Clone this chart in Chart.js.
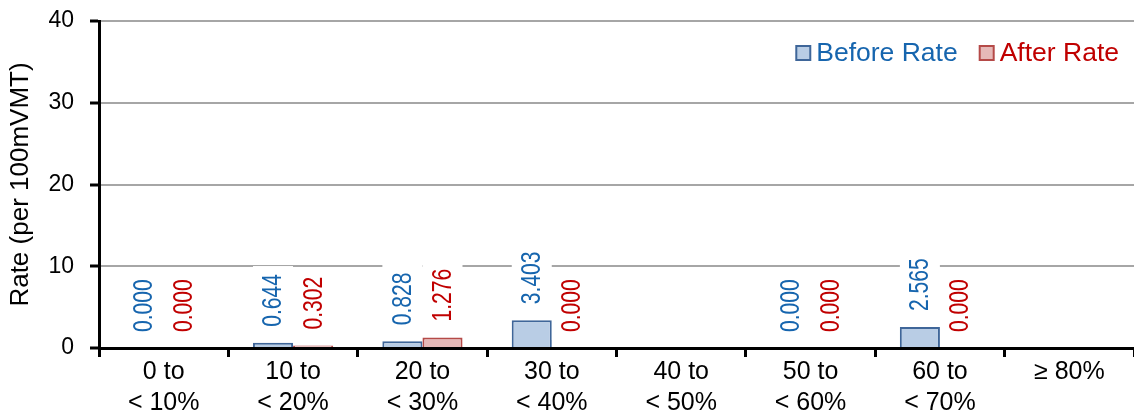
<!DOCTYPE html>
<html>
<head>
<meta charset="utf-8">
<script src="https://cdn.jsdelivr.net/npm/chart.js@4.4.1/dist/chart.umd.min.js"></script>
<style>
  html, body { margin: 0; padding: 0; background: #fff; }
  #wrap { width: 1134px; height: 415px; }
</style>
</head>
<body>
<div id="wrap"><canvas id="rateChart"></canvas></div>
<script>
// data
const categories = [
    ['0 to', '< 10%'], ['10 to', '< 20%'], ['20 to', '< 30%'], ['30 to', '< 40%'],
    ['40 to', '< 50%'], ['50 to', '< 60%'], ['60 to', '< 70%'], '\u2265 80%'
];
const beforeRate = [0.000, 0.644, 0.828, 3.403, null, 0.000, 2.565, null];
const afterRate = [0.000, 0.302, 1.276, 0.000, null, 0.000, 0.000, null];
const yTicks = [0, 10, 20, 30, 40];

const BLUE_TEXT = '#1665ae';
const RED_TEXT = '#c00000';
const FONT = "'Liberation Sans', Arial, sans-serif";

// vertical value labels sitting on white boxes above each bar
const valueLabels = {
    id: 'valueLabels',
    afterDatasetsDraw(chart) {
        const ctx = chart.ctx;
        const squeeze = 0.78;
        const items = [];
        chart.data.datasets.forEach((ds, i) => {
            const meta = chart.getDatasetMeta(i);
            meta.data.forEach((bar, j) => {
                if (ds.data[j] == null) return;
                items.push({ x: bar.x, y: bar.y, text: ds.data[j].toFixed(3), color: ds.labelColor });
            });
        });
        ctx.save();
        ctx.font = '27px ' + FONT;
        items.forEach(it => {
            const w = ctx.measureText(it.text).width * squeeze;
            ctx.save();
            ctx.translate(it.x, it.y - 16);
            ctx.rotate(-Math.PI / 2);
            ctx.fillStyle = '#fff';
            ctx.fillRect(-8, -20, w + 16, 40);
            ctx.restore();
        });
        items.forEach(it => {
            ctx.save();
            ctx.translate(it.x, it.y - 16);
            ctx.rotate(-Math.PI / 2);
            ctx.scale(squeeze, 1);
            ctx.fillStyle = it.color;
            ctx.textAlign = 'left';
            ctx.textBaseline = 'middle';
            ctx.fillText(it.text, 0, 1);
            ctx.restore();
        });
        ctx.restore();
    }
};

// legend in the top right corner of the plot
const cornerLegend = {
    id: 'cornerLegend',
    afterDraw(chart) {
        const ctx = chart.ctx;
        const area = chart.chartArea;
        ctx.save();
        ctx.font = '26.5px ' + FONT;
        const dsets = chart.data.datasets;
        const box = 14, gap = 6, between = 22;
        let total = 0;
        dsets.forEach((ds, i) => {
            total += box + gap + ctx.measureText(ds.label).width;
            if (i < dsets.length - 1) total += between;
        });
        let x = area.right - 15 - total;
        const cy = 53;
        dsets.forEach(ds => {
            ctx.fillStyle = ds.backgroundColor;
            ctx.fillRect(x, cy - box / 2, box, box);
            ctx.strokeStyle = ds.borderColor;
            ctx.lineWidth = 2;
            ctx.strokeRect(x, cy - box / 2, box, box);
            x += box + gap;
            ctx.fillStyle = ds.labelColor;
            ctx.textBaseline = 'middle';
            ctx.fillText(ds.label, x, cy + 1);
            x += ctx.measureText(ds.label).width + between;
        });
        ctx.restore();
    }
};

new Chart(document.getElementById('rateChart'), {
    type: 'bar',
    data: {
        labels: categories,
        datasets: [{
            label: 'Before Rate',
            data: beforeRate,
            backgroundColor: '#b9cde5',
            borderColor: '#3f6699',
            borderWidth: 2,
            labelColor: BLUE_TEXT
        }, {
            label: 'After Rate',
            data: afterRate,
            backgroundColor: '#e6b9b8',
            borderColor: '#b54a48',
            borderWidth: 2,
            labelColor: RED_TEXT
        }]
    },
    options: {
        responsive: true,
        maintainAspectRatio: false,
        animation: false,
        categoryPercentage: 0.62,
        barPercentage: 1.0,
        layout: { padding: { top: 21, right: 0, left: 0, bottom: 0 } },
        plugins: {
            legend: { display: false },
            tooltip: { enabled: false }
        },
        scales: {
            x: {
                grid: {
                    drawOnChartArea: false,
                    color: '#000',
                    lineWidth: 3,
                    tickLength: 9
                },
                border: { color: '#000', width: 3 },
                ticks: {
                    color: '#000',
                    font: { family: FONT, size: 25, lineHeight: 1.24 },
                    maxRotation: 0,
                    autoSkip: false,
                    padding: 0
                },
                afterFit(scale) { scale.height = 67; }
            },
            y: {
                min: 0,
                max: 40,
                afterBuildTicks(scale) { scale.ticks = yTicks.map(v => ({ value: v })); },
                grid: {
                    color: '#a6a6a6',
                    lineWidth: 2,
                    tickLength: 9,
                    tickColor: '#000',
                    tickWidth: 3
                },
                border: { color: '#000', width: 3 },
                ticks: {
                    color: '#000',
                    font: { family: FONT, size: 23 },
                    padding: 16
                },
                title: {
                    display: true,
                    text: 'Rate (per 100mVMT)',
                    color: '#000',
                    font: { family: FONT, size: 26 },
                    padding: { top: 5, bottom: 0 }
                },
                afterFit(scale) {
                    scale.width = 99;
                    scale.paddingTop = 0;
                    scale.paddingBottom = 0;
                }
            }
        }
    },
    plugins: [valueLabels, cornerLegend]
});
</script>
</body>
</html>
